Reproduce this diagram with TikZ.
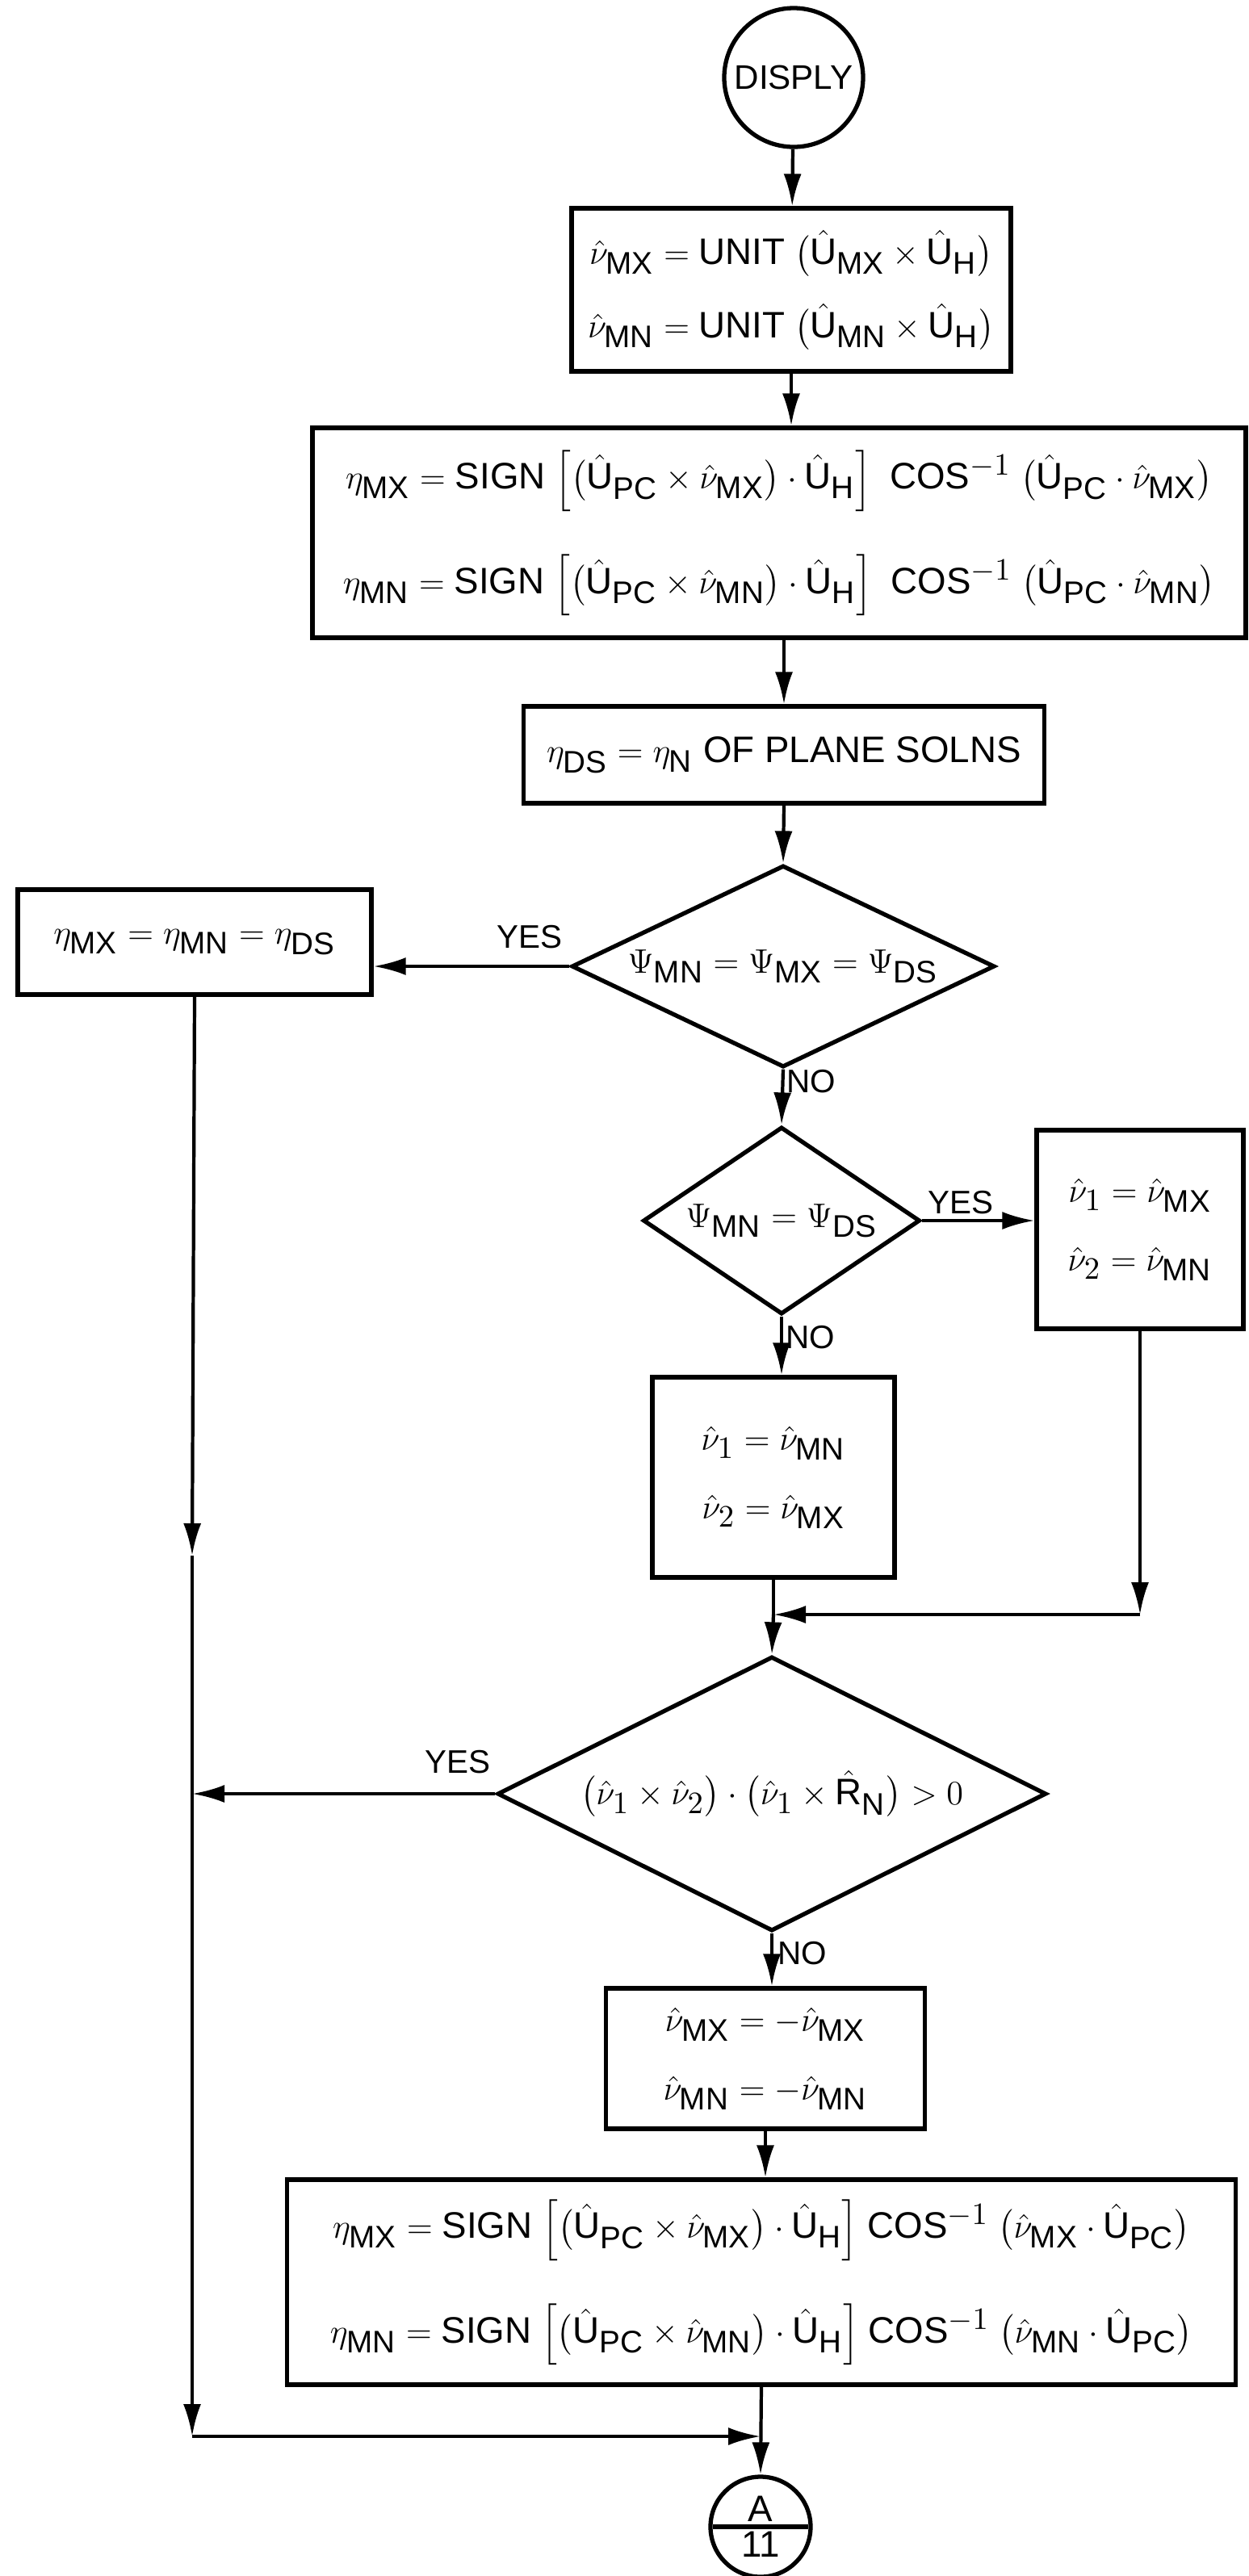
\documentclass[tikz,border=0pt]{standalone}
\usepackage{amsmath}
\usepackage{fontspec}
\setmainfont{Liberation Sans}
\setsansfont{Liberation Sans}
\usetikzlibrary{arrows.meta, shapes.geometric, shapes.multipart}
\DeclareMathSizes{13}{13}{11}{9}

\begin{document}
\begin{tikzpicture}[font=\sffamily\fontsize{13}{15.6}\selectfont, line width=1.2pt, box/.style={draw, line width=1.5pt, align=center, inner sep=0pt}, dia/.style={draw, diamond, aspect=2, line width=1.5pt, inner sep=0pt}, arr/.style={-{Latex[length=4mm, width=2.2mm]}}, lbl/.style={font=\sffamily\fontsize{11.5}{13}\selectfont}]
\useasboundingbox (0,0) rectangle (15.47,-31.91);
\node[circle, draw, line width=1.5pt, minimum size=1.72cm, inner sep=0pt, font=\sffamily\fontsize{12}{14}\selectfont] (disply) at (9.83,-0.96) {DISPLY};
\node[box, minimum width=5.44cm, minimum height=2.02cm] (unit) at (9.80,-3.59) {$\hat{\nu}_{\text{MX}} = \text{UNIT}\;\bigl(\hat{\text{U}}_{\text{MX}}\times\hat{\text{U}}_{\text{H}}\bigr)$\\[3mm]$\hat{\nu}_{\text{MN}} = \text{UNIT}\;\bigl(\hat{\text{U}}_{\text{MN}}\times\hat{\text{U}}_{\text{H}}\bigr)$};
\node[box, minimum width=11.56cm, minimum height=2.60cm] (eta1) at (9.65,-6.60) {$\eta_{\text{MX}} = \text{SIGN}\;\Bigl[\bigl(\hat{\text{U}}_{\text{PC}}\times\hat{\nu}_{\text{MX}}\bigr)\cdot\hat{\text{U}}_{\text{H}}\Bigr]\;\;\text{COS}^{-1}\;\bigl(\hat{\text{U}}_{\text{PC}}\cdot\hat{\nu}_{\text{MX}}\bigr)$\\[5mm]$\eta_{\text{MN}} = \text{SIGN}\;\Bigl[\bigl(\hat{\text{U}}_{\text{PC}}\times\hat{\nu}_{\text{MN}}\bigr)\cdot\hat{\text{U}}_{\text{H}}\Bigr]\;\;\text{COS}^{-1}\;\bigl(\hat{\text{U}}_{\text{PC}}\cdot\hat{\nu}_{\text{MN}}\bigr)$};
\node[box, minimum width=6.45cm, minimum height=1.20cm] (etads) at (9.71,-9.35) {$\eta_{\text{DS}} = \eta_{\text{N}}$ OF PLANE SOLNS};
\node[dia, minimum width=5.24cm, minimum height=2.50cm] (dia1) at (9.70,-11.97) {\makebox[0pt]{$\Psi_{\text{MN}} = \Psi_{\text{MX}} = \Psi_{\text{DS}}$}};
\node[box, minimum width=4.38cm, minimum height=1.30cm] (same) at (2.41,-11.67) {$\eta_{\text{MX}} = \eta_{\text{MN}} = \eta_{\text{DS}}$};
\node[dia, minimum width=3.43cm, minimum height=2.32cm] (dia2) at (9.68,-15.12) {\makebox[0pt]{$\Psi_{\text{MN}} = \Psi_{\text{DS}}$}};
\node[box, minimum width=2.56cm, minimum height=2.46cm] (swapa) at (14.12,-15.23) {$\hat{\nu}_1 = \hat{\nu}_{\text{MX}}$\\[3mm]$\hat{\nu}_2 = \hat{\nu}_{\text{MN}}$};
\node[box, minimum width=3.00cm, minimum height=2.48cm] (swapb) at (9.58,-18.30) {$\hat{\nu}_1 = \hat{\nu}_{\text{MN}}$\\[3mm]$\hat{\nu}_2 = \hat{\nu}_{\text{MX}}$};
\node[dia, minimum width=6.80cm, minimum height=3.40cm] (dia3) at (9.56,-22.22) {\makebox[0pt]{$\bigl(\hat{\nu}_1\times\hat{\nu}_2\bigr)\cdot\bigl(\hat{\nu}_1\times\hat{\text{R}}_{\text{N}}\bigr) > 0$}};
\node[box, minimum width=3.95cm, minimum height=1.74cm] (negate) at (9.48,-25.50) {$\hat{\nu}_{\text{MX}} = -\hat{\nu}_{\text{MX}}$\\[3mm]$\hat{\nu}_{\text{MN}} = -\hat{\nu}_{\text{MN}}$};
\node[box, minimum width=11.75cm, minimum height=2.54cm] (eta2) at (9.43,-28.27) {$\eta_{\text{MX}} = \text{SIGN}\;\Bigl[\bigl(\hat{\text{U}}_{\text{PC}}\times\hat{\nu}_{\text{MX}}\bigr)\cdot\hat{\text{U}}_{\text{H}}\Bigr]\;\text{COS}^{-1}\;\bigl(\hat{\nu}_{\text{MX}}\cdot\hat{\text{U}}_{\text{PC}}\bigr)$\\[5mm]$\eta_{\text{MN}} = \text{SIGN}\;\Bigl[\bigl(\hat{\text{U}}_{\text{PC}}\times\hat{\nu}_{\text{MN}}\bigr)\cdot\hat{\text{U}}_{\text{H}}\Bigr]\;\text{COS}^{-1}\;\bigl(\hat{\nu}_{\text{MN}}\cdot\hat{\text{U}}_{\text{PC}}\bigr)$};
\node[circle split, draw, line width=1.5pt, minimum size=1.24cm, inner sep=1pt] (conn) at (9.42,-31.30) {A\nodepart{lower}11};
\node[lbl] (yes1) at (6.56,-11.61) {YES};
\node[lbl] (no1) at (10.05,-13.40) {NO};
\node[lbl] (yes2) at (11.90,-14.90) {YES};
\node[lbl] (no2) at (10.04,-16.57) {NO};
\node[lbl] (yes3) at (5.67,-21.83) {YES};
\node[lbl] (no3) at (9.94,-24.20) {NO};
\coordinate (ldown) at (2.38,-19.27);
\coordinate (lcorner) at (2.38,-30.18);
\coordinate (rcorner) at (14.12,-20.00);
\coordinate (rjoin) at (9.58,-20.00);
\draw[arr] (disply) -- (unit);
\draw[arr] (unit.south) -- (unit.south |- eta1.north);
\draw[arr] (etads.north |- eta1.south) -- (etads.north);
\draw[arr] (etads.south) -- (dia1.north);
\draw[arr] (dia1.west) -- (dia1.west -| same.east);
\draw[arr] (dia1.south) -- (dia2.north);
\draw[arr] (dia2.east) -- (dia2.east -| swapa.west);
\draw[arr] (dia2.south) -- (dia2.south |- swapb.north);
\draw (swapb.south) -- (rjoin);
\draw[arr] (swapa.south) -- (rcorner);
\draw[arr] (rcorner) -- (rjoin);
\draw[arr] (rjoin) -- (dia3.north);
\draw[arr] (same.south) -- (ldown);
\draw[arr] (ldown) -- (lcorner);
\draw[arr] (dia3.west) -- (dia3.west -| lcorner);
\draw[arr] (dia3.south) -- (dia3.south |- negate.north);
\draw[arr] (negate.south) -- (negate.south |- eta2.north);
\draw[arr] (lcorner) -- (lcorner -| conn.north);
\draw[arr] (eta2.south) -- (conn.north);
\end{tikzpicture}
\end{document}
